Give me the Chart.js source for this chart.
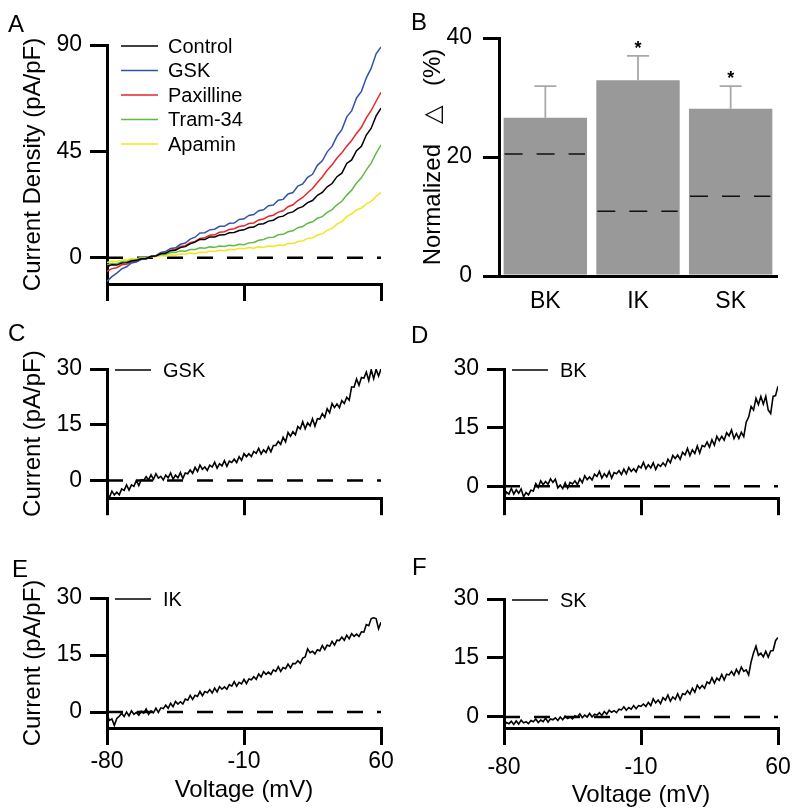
<!DOCTYPE html>
<html>
<head>
<meta charset="utf-8">
<script src="https://cdn.jsdelivr.net/npm/chart.js@4.4.1/dist/chart.umd.min.js"></script>
<style>
  body { margin: 0; background: #fff; width: 800px; height: 812px; position: relative; overflow: hidden; }
  canvas { position: absolute; }
  .panel { position: absolute; font: 24px/24px "Liberation Sans", Arial, sans-serif; color: #000; z-index: 2; }
</style>
</head>
<body>
<canvas id="chartA" width="400" height="320" style="left:0;top:0"></canvas>
<canvas id="chartB" width="400" height="320" style="left:400px;top:0"></canvas>
<canvas id="chartC" width="400" height="200" style="left:0;top:320px"></canvas>
<canvas id="chartD" width="400" height="200" style="left:400px;top:320px"></canvas>
<canvas id="chartE" width="400" height="272" style="left:0;top:540px"></canvas>
<canvas id="chartF" width="400" height="272" style="left:400px;top:540px"></canvas>
<div class="panel" style="left:8px;top:12px">A</div>
<div class="panel" style="left:411px;top:10px">B</div>
<div class="panel" style="left:8px;top:321px">C</div>
<div class="panel" style="left:411px;top:323px">D</div>
<div class="panel" style="left:12px;top:557px">E</div>
<div class="panel" style="left:412px;top:555px">F</div>
<script>
const FONT = '"Liberation Sans", Arial, Helvetica, sans-serif';

// Voltage sweep (mV) for panel A
const voltage = [-80, -77.5, -75, -72.5, -70, -67.5, -65, -62.5, -60, -57.5,
  -55, -52.5, -50, -47.5, -45, -42.5, -40, -37.5, -35, -32.5,
  -30, -27.5, -25, -22.5, -20, -17.5, -15, -12.5, -10, -7.5,
  -5, -2.5, 0, 2.5, 5, 7.5, 10, 12.5, 15, 17.5,
  20, 22.5, 25, 27.5, 30, 32.5, 35, 37.5, 40, 42.5,
  45, 47.5, 50, 52.5, 55, 57.5, 60];
// Finer sweep for the single difference traces (C-F)
const voltageFine = [-80, -78.75, -77.5, -76.25, -75, -73.75, -72.5, -71.25, -70, -68.75,
  -67.5, -66.25, -65, -63.75, -62.5, -61.25, -60, -58.75, -57.5, -56.25,
  -55, -53.75, -52.5, -51.25, -50, -48.75, -47.5, -46.25, -45, -43.75,
  -42.5, -41.25, -40, -38.75, -37.5, -36.25, -35, -33.75, -32.5, -31.25,
  -30, -28.75, -27.5, -26.25, -25, -23.75, -22.5, -21.25, -20, -18.75,
  -17.5, -16.25, -15, -13.75, -12.5, -11.25, -10, -8.75, -7.5, -6.25,
  -5, -3.75, -2.5, -1.25, 0, 1.25, 2.5, 3.75, 5, 6.25,
  7.5, 8.75, 10, 11.25, 12.5, 13.75, 15, 16.25, 17.5, 18.75,
  20, 21.25, 22.5, 23.75, 25, 26.25, 27.5, 28.75, 30, 31.25,
  32.5, 33.75, 35, 36.25, 37.5, 38.75, 40, 41.25, 42.5, 43.75,
  45, 46.25, 47.5, 48.75, 50, 51.25, 52.5, 53.75, 55, 56.25,
  57.5, 58.75, 60];
const voltTicks = [-80, -10, 60];

// Panel A - current density (pA/pF)
const controlA = [-3.7, -3.0, -3.1, -2.2, -2.1, -1.4, -1.1, -0.4, -0.3, 0.5,
  0.8, 1.7, 1.9, 3.0, 3.2, 4.3, 4.7, 5.9, 6.6, 7.8,
  7.7, 8.8, 8.8, 9.6, 9.7, 10.6, 10.7, 11.5, 11.8, 12.8,
  13.0, 14.2, 14.4, 15.5, 15.9, 17.2, 17.6, 18.9, 19.4, 20.9,
  21.6, 23.3, 24.2, 26.4, 27.6, 30.0, 31.4, 34.3, 35.8, 39.9,
  41.4, 45.3, 47.2, 51.9, 54.8, 60.0, 63.3];
const gskA = [-10.0, -8.0, -6.5, -4.7, -3.8, -2.2, -1.8, -0.7, -0.5, 0.6,
  0.9, 2.2, 2.7, 3.9, 4.2, 5.7, 6.2, 7.9, 8.7, 10.5,
  10.6, 11.8, 12.1, 13.3, 13.3, 14.6, 14.7, 16.2, 16.5, 17.9,
  18.3, 19.9, 20.3, 22.0, 22.3, 24.3, 24.7, 27.0, 27.6, 30.3,
  31.2, 34.0, 35.3, 39.1, 41.0, 44.8, 47.1, 51.4, 54.2, 59.6,
  62.1, 67.6, 70.4, 76.1, 80.2, 86.3, 89.2];
const paxillineA = [-5.8, -4.6, -4.2, -3.0, -2.8, -1.8, -1.6, -0.6, -0.5, 0.5,
  0.8, 1.8, 2.1, 3.2, 3.6, 4.8, 5.1, 6.4, 6.9, 8.2,
  8.5, 9.5, 9.7, 10.8, 11.0, 12.0, 12.3, 13.2, 13.5, 14.5,
  14.7, 16.0, 16.4, 17.6, 18.0, 19.3, 19.9, 21.6, 22.4, 24.2,
  25.5, 27.5, 29.3, 31.8, 34.2, 37.0, 39.3, 42.2, 44.4, 47.2,
  49.6, 52.6, 55.2, 59.2, 62.3, 66.2, 70.0];
const tram34A = [-3.0, -2.4, -2.5, -1.7, -1.7, -0.9, -0.9, -0.1, -0.2, 0.6,
  0.6, 1.5, 1.4, 2.2, 2.2, 2.9, 2.8, 3.5, 3.5, 4.2,
  4.0, 4.6, 4.4, 5.0, 4.8, 5.3, 5.1, 5.7, 5.5, 6.3,
  6.5, 7.4, 7.7, 8.6, 8.7, 9.7, 9.9, 11.0, 11.4, 12.7,
  13.2, 14.6, 15.2, 16.7, 17.4, 19.2, 20.4, 22.4, 23.9, 26.5,
  28.6, 31.6, 33.8, 37.2, 40.0, 44.2, 47.8];
const apaminA = [-2.0, -1.5, -1.6, -0.9, -1.0, -0.4, -0.5, 0.1, -0.1, 0.5,
  0.3, 0.9, 0.7, 1.3, 1.1, 1.7, 1.5, 2.0, 1.7, 2.3,
  2.2, 2.8, 2.6, 3.2, 3.0, 3.6, 3.4, 4.0, 3.8, 4.3,
  4.0, 4.6, 4.4, 5.0, 4.8, 5.4, 5.2, 6.0, 6.0, 6.9,
  7.1, 8.2, 8.4, 9.6, 10.1, 11.6, 12.4, 14.2, 15.3, 17.4,
  18.6, 20.2, 21.0, 22.8, 23.8, 26.0, 27.6];
const densityTicks = [0, 45, 90];

// Panels C-F - difference currents (pA/pF)
const gskTrace = [-3.6, -4.6, -2.9, -3.9, -3.2, -3.9, -2.3, -2.7, -1.2, -2.6,
  -1.2, -1.6, 0.0, -1.4, 0.2, 0.0, 1.0, 0.1, 1.5, 0.3,
  1.8, 0.6, 1.1, 0.1, 1.4, 0.7, 2.0, 0.3, 1.4, 0.7,
  2.1, 0.5, 2.0, 1.8, 2.8, 1.9, 3.5, 2.4, 4.1, 3.0,
  3.6, 2.7, 4.1, 3.6, 4.9, 3.3, 4.5, 3.9, 5.3, 3.8,
  5.2, 4.8, 5.7, 4.8, 6.4, 5.4, 7.2, 6.4, 7.2, 6.4,
  7.8, 7.3, 8.6, 7.1, 8.2, 7.5, 9.0, 7.7, 9.4, 9.4,
  10.5, 9.7, 11.6, 10.4, 12.9, 11.9, 13.1, 12.3, 14.5, 13.9,
  15.8, 13.9, 15.5, 14.7, 16.6, 14.6, 16.6, 16.5, 18.0, 17.0,
  19.3, 18.2, 20.7, 19.6, 20.6, 19.6, 21.5, 20.7, 22.4, 21.6,
  25.2, 25.1, 27.3, 25.6, 27.7, 27.5, 29.2, 26.9, 29.8, 27.4,
  29.9, 28.1, 30.0];
const bkTrace = [-2.9, -1.5, -2.0, -0.5, -2.0, -0.9, -1.8, -0.7, -2.7, -1.6,
  -2.2, -1.0, -1.2, 0.7, -0.3, 1.4, 0.4, 1.2, 0.5, 1.9,
  1.0, 1.8, -0.4, 0.3, -0.6, 0.9, -0.5, 1.0, 0.6, 1.4,
  0.4, 1.9, 0.9, 2.7, 1.7, 2.4, 1.6, 3.1, 2.5, 3.8,
  2.1, 3.2, 2.4, 3.8, 2.1, 3.5, 3.2, 4.0, 3.0, 4.4,
  3.2, 4.8, 3.8, 4.5, 3.7, 5.2, 4.7, 6.1, 4.5, 5.5,
  4.7, 6.0, 4.3, 5.6, 5.1, 6.0, 5.2, 6.9, 6.0, 7.9,
  7.1, 8.0, 6.9, 8.7, 8.0, 9.7, 7.8, 9.3, 8.4, 10.3,
  8.5, 10.4, 10.1, 11.3, 10.0, 11.9, 10.5, 12.8, 11.7, 12.8,
  11.8, 13.7, 12.9, 14.4, 12.2, 13.5, 12.2, 13.8, 12.7, 16.4,
  17.7, 20.4, 19.5, 22.5, 20.9, 23.0, 21.0, 23.0, 19.5, 18.6,
  23.0, 23.2, 25.6];
const ikTrace = [-0.8, -2.2, -1.8, -3.5, -1.7, -1.1, -0.3, -1.2, 0.0, -1.0,
  0.3, -0.6, -0.1, -0.8, 0.2, -0.3, 0.8, -0.6, 0.3, -0.2,
  1.0, -0.1, 1.1, 0.9, 1.8, 1.0, 2.3, 1.4, 2.8, 2.1,
  2.7, 2.1, 3.4, 3.1, 4.4, 3.3, 4.4, 4.1, 5.4, 4.3,
  5.4, 5.1, 5.9, 5.0, 6.3, 5.3, 6.7, 6.0, 6.6, 6.0,
  7.2, 6.8, 8.0, 6.8, 7.8, 7.4, 8.6, 7.5, 8.7, 8.5,
  9.3, 8.6, 10.0, 9.2, 10.6, 9.9, 10.5, 9.9, 11.1, 10.7,
  11.9, 10.7, 11.7, 11.4, 12.6, 11.6, 12.8, 12.7, 13.5, 12.8,
  14.2, 14.5, 16.6, 15.6, 16.0, 15.3, 16.4, 16.1, 17.5, 16.4,
  17.6, 17.3, 18.6, 17.6, 18.9, 18.8, 19.7, 18.9, 20.2, 19.3,
  20.6, 19.9, 20.5, 19.9, 21.1, 21.0, 23.0, 22.7, 24.6, 24.8,
  24.6, 21.9, 23.6];
const skTrace = [-2.2, -1.4, -1.7, -1.1, -1.9, -1.0, -1.8, -0.8, -1.5, -1.2,
  -1.7, -0.9, -1.2, -0.5, -1.4, -0.8, -1.2, -0.3, -1.3, -0.5,
  -0.7, -0.2, -0.9, 0.0, -0.7, 0.2, -0.4, 0.0, -0.5, 0.3,
  0.0, 0.8, -0.2, 0.5, 0.0, 0.9, 0.0, 0.7, 0.5, 1.1,
  0.4, 1.4, 0.7, 1.7, 1.2, 1.6, 1.1, 2.0, 1.8, 2.6,
  1.7, 2.4, 2.0, 2.9, 2.1, 2.9, 2.7, 3.3, 2.7, 3.7,
  2.9, 4.6, 3.6, 4.3, 3.4, 4.9, 4.3, 5.6, 4.0, 5.1,
  4.5, 5.9, 4.4, 5.9, 5.7, 6.7, 5.8, 7.3, 6.3, 8.1,
  7.2, 8.0, 7.3, 8.9, 8.5, 10.0, 8.6, 9.9, 9.3, 10.8,
  9.4, 10.9, 10.7, 11.6, 10.6, 12.1, 11.0, 12.7, 11.6, 12.0,
  10.7, 14.0, 16.3, 18.0, 15.7, 16.2, 15.3, 16.7, 15.2, 16.8,
  16.9, 19.4, 20.2];
const currentTicks = [0, 15, 30];

// Panel B - normalized change (%)
const channels = ['BK', 'IK', 'SK'];
const normDelta = [26.6, 32.9, 28.1];
const normSem = [5.3, 4.1, 3.8];
const baselineLevel = [20.5, 10.9, 13.4];
const signif = ['', '*', '*'];
const percentTicks = [0, 20, 40];

const toPoints = (xs, ys) => ys.map((y, i) => ({ x: xs[i], y }));

function zeroLine() {
  return {
    data: [{ x: voltTicks[0], y: 0 }, { x: voltTicks[voltTicks.length - 1], y: 0 }],
    borderColor: '#000', borderWidth: 2.5, borderDash: [16, 14],
    pointRadius: 0
  };
}

function trace(label, xs, ys, color, width) {
  return { label, data: toPoints(xs, ys), borderColor: color, borderWidth: width, pointRadius: 0, tension: 0 };
}

// Short line + name drawn inside the plot, like the original figure
const traceLabels = {
  id: 'traceLabels',
  afterDatasetsDraw(chart, args, o) {
    const { ctx, chartArea } = chart;
    ctx.save();
    ctx.font = `20px ${FONT}`;
    ctx.textBaseline = 'middle';
    ctx.textAlign = 'left';
    let row = 0;
    chart.data.datasets.forEach(ds => {
      if (!ds.label) return;
      const y = chartArea.top + o.dy + row * o.rowH;
      const x0 = chartArea.left + o.dx;
      ctx.strokeStyle = ds.borderColor;
      ctx.lineWidth = 1.5;
      ctx.beginPath();
      ctx.moveTo(x0, y);
      ctx.lineTo(x0 + o.len, y);
      ctx.stroke();
      ctx.fillStyle = '#000';
      ctx.fillText(ds.label, x0 + o.len + o.gap, y + 1);
      row++;
    });
    ctx.restore();
  }
};

const axisGrid = (len) => ({ drawOnChartArea: false, tickLength: len, lineWidth: 3, color: '#000' });
const axisBorder = { width: 3, color: '#000' };
const tickFont = { family: FONT, size: 23 };
const titleFont = { family: FONT, size: 24 };

function ivOptions(p) {
  return {
    responsive: false,
    animation: false,
    layout: { padding: { top: p.top, right: p.right, left: 0, bottom: 0 } },
    plugins: { legend: { display: false }, tooltip: { enabled: false }, traceLabels: p.labels },
    scales: {
      x: {
        type: 'linear', min: voltTicks[0], max: voltTicks[voltTicks.length - 1],
        afterBuildTicks: s => { s.ticks = voltTicks.map(v => ({ value: v })); },
        afterFit: s => { s.height = p.xH; },
        grid: axisGrid(17),
        border: axisBorder,
        ticks: { display: !!p.xTitle, padding: p.xPad || 0, color: '#000', font: tickFont, maxRotation: 0 },
        title: { display: !!p.xTitle, text: 'Voltage (mV)', color: '#000', font: titleFont, padding: { top: 0, bottom: p.xTitlePad || 0 } }
      },
      y: {
        min: p.yMin, max: p.yMax,
        afterBuildTicks: s => { s.ticks = p.yTicks.map(v => ({ value: v })); },
        afterFit: s => { s.width = p.yW; },
        grid: axisGrid(17),
        border: axisBorder,
        ticks: { padding: 8, color: '#000', font: tickFont },
        title: { display: !!p.yTitle, text: p.yTitle, color: '#000', font: titleFont, padding: { top: 19, bottom: 0 } }
      }
    }
  };
}

function ivChart(id, datasets, p) {
  return new Chart(document.getElementById(id), {
    type: 'line',
    data: { datasets: datasets.concat([zeroLine()]) },
    options: ivOptions(p),
    plugins: [traceLabels]
  });
}

// A
ivChart('chartA', [
  trace('Control', voltage, controlA, '#000000', 1.5),
  trace('GSK', voltage, gskA, '#3553a5', 1.5),
  trace('Paxilline', voltage, paxillineA, '#e8262a', 1.5),
  trace('Tram-34', voltage, tram34A, '#62b946', 1.5),
  trace('Apamin', voltage, apaminA, '#f2e51c', 1.5)
], { top: 45, right: 19, xH: 36, yW: 107, yMin: -11.1, yMax: 90, yTicks: densityTicks,
     yTitle: 'Current Density (pA/pF)', labels: { dx: 14, dy: 1, len: 37, gap: 10, rowH: 24.5 } });

// C-F
const lbl = { dx: 8, dy: 1, len: 36, gap: 12, rowH: 24 };
ivChart('chartC', [trace('GSK', voltageFine, gskTrace, '#000', 1.6)],
  { top: 49, right: 19, xH: 20, yW: 107, yMin: -4.8, yMax: 30, yTicks: currentTicks,
    yTitle: 'Current (pA/pF)', labels: lbl });
ivChart('chartD', [trace('BK', voltageFine, bkTrace, '#000', 1.6)],
  { top: 49, right: 22, xH: 21, yW: 104, yMin: -3.05, yMax: 30, yTicks: currentTicks, labels: lbl });
ivChart('chartE', [trace('IK', voltageFine, ikTrace, '#000', 1.6)],
  { top: 58, right: 19, xH: 84, yW: 107, yMin: -4.2, yMax: 30, yTicks: currentTicks,
    yTitle: 'Current (pA/pF)', xTitle: true, xPad: 3, xTitlePad: 7, labels: lbl });
ivChart('chartF', [trace('SK', voltageFine, skTrace, '#000', 1.6)],
  { top: 59, right: 22, xH: 84, yW: 104, yMin: -2.8, yMax: 30, yTicks: currentTicks,
    xTitle: true, xPad: 9, xTitlePad: 2, labels: lbl });

// B - error bars, control level dashes and significance stars
const barMarks = {
  id: 'barMarks',
  afterDatasetsDraw(chart) {
    const { ctx } = chart;
    const y = chart.scales.y;
    const bars = chart.getDatasetMeta(0).data;
    ctx.save();
    bars.forEach((bar, i) => {
      const top = y.getPixelForValue(normDelta[i] + normSem[i]);
      ctx.strokeStyle = '#a8a8a8';
      ctx.lineWidth = 1.8;
      ctx.setLineDash([]);
      ctx.beginPath();
      ctx.moveTo(bar.x, bar.y);
      ctx.lineTo(bar.x, top);
      ctx.moveTo(bar.x - 11, top);
      ctx.lineTo(bar.x + 11, top);
      ctx.stroke();

      const by = y.getPixelForValue(baselineLevel[i]);
      ctx.strokeStyle = '#111';
      ctx.lineWidth = 1.5;
      ctx.setLineDash([18, 14]);
      ctx.beginPath();
      ctx.moveTo(bar.x - bar.width / 2 + 1, by);
      ctx.lineTo(bar.x + bar.width / 2 - 2, by);
      ctx.stroke();

      if (signif[i]) {
        ctx.fillStyle = '#000';
        ctx.font = `bold 18px ${FONT}`;
        ctx.textAlign = 'center';
        ctx.textBaseline = 'alphabetic';
        ctx.fillText(signif[i], bar.x, top - 2);
      }
    });
    ctx.restore();
  }
};

new Chart(document.getElementById('chartB'), {
  type: 'bar',
  data: {
    labels: channels,
    datasets: [{ data: normDelta, backgroundColor: '#999999', borderWidth: 0, barPercentage: 0.9, categoryPercentage: 1 }]
  },
  options: {
    responsive: false,
    animation: false,
    layout: { padding: { top: 38, right: 23, left: 0, bottom: 0 } },
    plugins: { legend: { display: false }, tooltip: { enabled: false } },
    scales: {
      x: {
        z: 1,
        afterFit: s => { s.height = 44; },
        grid: { drawOnChartArea: false, drawTicks: false },
        border: axisBorder,
        ticks: { padding: 12, color: '#000', font: tickFont }
      },
      y: {
        min: percentTicks[0], max: percentTicks[percentTicks.length - 1],
        afterBuildTicks: s => { s.ticks = percentTicks.map(v => ({ value: v })); },
        afterFit: s => { s.width = 99; },
        grid: axisGrid(16),
        border: axisBorder,
        ticks: { padding: 11, color: '#000', font: tickFont },
        title: { display: true, text: 'Normalized\u00a0\u00a0\u00a0\u25b3\u00a0\u00a0\u00a0(%)', color: '#000', font: titleFont, padding: { top: 19, bottom: 0 } }
      }
    }
  },
  plugins: [barMarks]
});
</script>
</body>
</html>
